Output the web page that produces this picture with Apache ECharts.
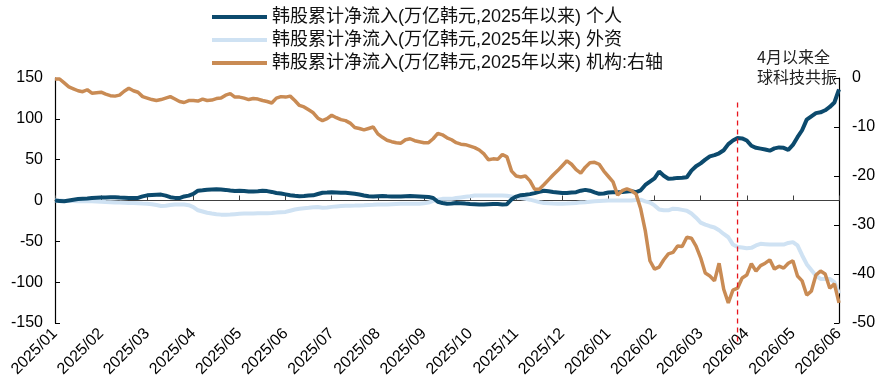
<!DOCTYPE html>
<html>
<head>
<meta charset="utf-8">
<script src="https://cdn.jsdelivr.net/npm/echarts@6/dist/echarts.min.js"></script>
<style>
  html, body { margin: 0; padding: 0; background: #ffffff; }
  #chart { width: 881px; height: 384px; }
</style>
</head>
<body>
<div id="chart"></div>
<script>
// Month labels along the bottom axis; each month holds 10 sampled readings
const monthLabels = ['2025/01','2025/02','2025/03','2025/04','2025/05','2025/06','2025/07','2025/08','2025/09',
  '2025/10','2025/11','2025/12','2026/01','2026/02','2026/03','2026/04','2026/05','2026/06'];
const stepsPerMonth = 10;

const seriesNames = [
  '韩股累计净流入(万亿韩元,2025年以来) 个人',
  '韩股累计净流入(万亿韩元,2025年以来) 外资',
  '韩股累计净流入(万亿韩元,2025年以来) 机构:右轴'
];

// Cumulative net inflow, individuals (left axis)
const individual = [
  0,-0.5,-1,0,1,1.8,2.2,2.5,3,3.3,
  3.6,3.8,4,4,3.6,3.3,3,3,3.2,5,
  6.3,6.8,7,7.2,6,4,3.2,3,5,6,
  8,12,12.5,13.2,13.5,13.7,13.5,13,12.2,11.5,
  11.8,11.5,11,11,11.3,11.8,11.5,10.5,9.2,8.5,
  7.5,6.5,5.8,5.3,5.5,6,6.3,8,9.5,9.7,
  10,9.8,9.5,9.4,9,8.3,7.3,6.2,5.2,5,
  5.2,5.4,5.1,5,5,4.8,5.2,5.5,5.3,5,
  4.6,4.2,3,-1.5,-3,-4,-3.8,-3.2,-3.3,-3.8,
  -4.2,-4.5,-4.8,-5,-4.6,-4.2,-4.3,-4.8,-4.5,1.5,
  4.8,6.5,7,7.8,9,10.5,12,11.3,10.4,9.8,
  9.2,9.2,9.8,10.2,12,13,12,10,8.2,8.6,
  9.7,10,10,10.3,11,11.5,10.3,12.5,19,23,
  27,35.5,30.3,26.6,27,27.7,28,28.5,36.5,42,
  45.5,50,54,55.5,57.8,61.5,69,73.5,76.5,76,
  73.5,67,64.5,63.5,62.5,61,63.8,65,64.5,62,
  68,77.5,86,99,103,107,108,110.5,114.5,120,
  136
];

// Cumulative net inflow, foreign investors (left axis)
const foreign = [
  0,0,-0.3,-0.5,-0.6,-0.8,-1,-1,-1,-1.2,
  -1.5,-1.8,-2,-2.3,-2.6,-2.8,-3,-3.2,-3.5,-3.8,
  -4,-4.5,-5.5,-6.8,-6.5,-5.5,-5,-5,-5,-5.8,
  -8,-12,-13.5,-15,-16,-16.8,-17.3,-17.5,-17.2,-16.7,
  -16.3,-16,-16,-15.8,-15.6,-15.5,-15.5,-15.2,-14.8,-14.3,
  -14,-12.5,-11,-10,-9.5,-9,-8.3,-8,-8.8,-8.5,
  -7.8,-7.2,-6.8,-6.5,-6.3,-6.2,-6,-5.8,-5.5,-5.3,
  -5,-5,-4.8,-4.5,-4.2,-4,-4,-4,-4,-4,
  -3.5,-2.5,-0.5,1,2,2,2,3,3.8,4.5,
  5.2,6,6.2,6.2,6,6,6.2,6,5.8,5,
  4,3,2,1,-0.5,-2,-3,-3.5,-3.8,-4,
  -4,-3.8,-3.5,-3,-2.3,-2,-1.5,-1,-0.5,-0.2,
  0,0,0,0,0,0,0.5,1,-1,-2.5,
  -6,-11,-12,-12,-10,-10.5,-11.5,-12.5,-16,-21,
  -27,-29.5,-31.5,-33,-36.5,-41,-45,-54,-57,-57.5,
  -58.5,-58,-55,-53,-53.5,-54,-54,-54,-54,-52,
  -51,-55,-67,-78,-85,-92,-96,-96,-96,-100,
  -114
];

// Cumulative net inflow, institutions (right axis)
const institution = [
  -0.2,-0.2,-1,-1.8,-2.2,-2.6,-2.8,-2.4,-3.1,-3,
  -2.9,-3.3,-3.6,-3.7,-3.5,-2.7,-2.1,-2.6,-2.9,-3.8,
  -4.1,-4.4,-4.6,-4.4,-4.1,-3.8,-4.3,-4.8,-5,-4.6,
  -4.6,-4.7,-4.3,-4.6,-4.5,-4.2,-4.1,-3.5,-3.2,-3.9,
  -3.9,-4.1,-4.4,-4.2,-4.3,-4.6,-4.8,-5.1,-4.1,-3.8,
  -3.9,-3.7,-4.6,-5.6,-5.9,-6.5,-7.1,-8.2,-8.7,-8.3,
  -7.6,-8.1,-8.5,-8.7,-9.2,-10.1,-10.3,-10.6,-10.3,-10,
  -11.4,-12.1,-12.7,-13,-13.2,-13.3,-12.6,-12.4,-12.8,-13,
  -13.2,-13.2,-12.4,-11.3,-11.6,-12.2,-12.6,-13.2,-13.5,-13.6,
  -13.9,-14.2,-14.7,-15.5,-16.7,-16.5,-16.6,-15.6,-16.1,-19,
  -20,-20.2,-20,-21,-22.7,-22.7,-21.8,-20.8,-19.8,-18.9,
  -17.9,-16.9,-17.6,-18.7,-19.4,-18.2,-17.3,-17.2,-17.6,-19,
  -20.1,-21.2,-23.9,-23,-22.6,-23,-23.7,-26.7,-31.2,-37.3,
  -39,-38.6,-37.1,-35.9,-35.6,-34.3,-34.4,-32.5,-32.7,-34.3,
  -36.7,-39.8,-40.4,-41.4,-37.8,-43.1,-45.9,-43.3,-42.9,-40.8,
  -40.2,-37.9,-39.4,-38.3,-37.8,-37.1,-39,-38.4,-38.8,-37.8,
  -37.3,-40.4,-41.4,-44.3,-43.5,-40.2,-39.4,-40,-42.9,-42,
  -45.9
];

const leftTicks = { min: -150, max: 150, interval: 50 };
const rightTicks = { min: -50, max: 0, interval: 10 };
const markerIndex = 148;        // sample where the April rally marker sits
const markerTopValue = 120;     // left-axis value where the dashed marker starts
const noteText = '4月以来全\n球科技共振';

const colors = ['#0c4a6d', '#cfe2f3', '#c98b54'];

// Category list: one entry per sampled trading day
const categories = [];
for (let i = 0; i < individual.length; i++) {
  categories.push(monthLabels[Math.floor(i / stepsPerMonth)] + '#' + (i % stepsPerMonth));
}

const latin = '"Liberation Sans", Arial, "Noto Sans CJK SC", sans-serif';
const cjk = '"Liberation Sans", "Noto Sans CJK SC", sans-serif';
const onMonth = (idx) => idx % stepsPerMonth === 0;

const chart = echarts.init(document.getElementById('chart'), null, { renderer: 'canvas' });

chart.setOption({
  animation: false,
  backgroundColor: '#ffffff',
  color: colors,
  grid: { left: 55, right: 42, top: 78, bottom: 61, containLabel: false },
  legend: {
    orient: 'vertical',
    left: 212,
    top: 8,
    padding: 0,
    icon: 'rect',
    itemWidth: 55,
    itemHeight: 4,
    itemGap: 5,
    textStyle: { fontFamily: cjk, fontSize: 18, lineHeight: 18, color: '#111' },
    data: seriesNames
  },
  xAxis: [
    {
      type: 'category',
      data: categories,
      boundaryGap: false,
      position: 'bottom',
      axisLine: { show: false, onZero: false },
      axisTick: { show: false },
      axisLabel: {
        interval: onMonth,
        rotate: 45,
        margin: 8,
        fontFamily: latin,
        fontSize: 16,
        color: '#000',
        formatter: (v) => v.split('#')[0]
      },
      splitLine: { show: false }
    },
    {
      type: 'category',
      data: categories,
      boundaryGap: false,
      position: 'bottom',
      axisLine: { show: true, onZero: true, onZeroAxisIndex: 0, lineStyle: { color: '#404040', width: 1.2 } },
      axisTick: { show: true, inside: true, length: 5, interval: onMonth, alignWithLabel: true, lineStyle: { color: '#404040' } },
      axisLabel: { show: false },
      splitLine: { show: false }
    }
  ],
  yAxis: [
    {
      type: 'value',
      position: 'left',
      min: leftTicks.min, max: leftTicks.max, interval: leftTicks.interval,
      axisLine: { show: true, lineStyle: { color: '#000', width: 1.2 } },
      axisTick: { show: true, inside: true, length: 5, lineStyle: { color: '#000' } },
      axisLabel: { fontFamily: latin, fontSize: 16, color: '#000', margin: 12 },
      splitLine: { show: false }
    },
    {
      type: 'value',
      position: 'right',
      min: rightTicks.min, max: rightTicks.max, interval: rightTicks.interval,
      axisLine: { show: true, lineStyle: { color: '#000', width: 1.2 } },
      axisTick: { show: true, inside: true, length: 5, lineStyle: { color: '#000' } },
      axisLabel: { fontFamily: latin, fontSize: 16, color: '#000', margin: 13 },
      splitLine: { show: false }
    }
  ],
  series: [
    {
      name: seriesNames[0], type: 'line', data: individual,
      xAxisIndex: 0, yAxisIndex: 0, symbol: 'none',
      lineStyle: { width: 4, color: colors[0] }, z: 3
    },
    {
      name: seriesNames[1], type: 'line', data: foreign,
      xAxisIndex: 0, yAxisIndex: 0, symbol: 'none',
      lineStyle: { width: 4, color: colors[1] }, z: 2
    },
    {
      name: seriesNames[2], type: 'line', data: institution,
      xAxisIndex: 0, yAxisIndex: 1, symbol: 'none',
      lineStyle: { width: 3.5, color: colors[2] }, z: 4
    }
  ]
});

// Dashed marker at the start of the April rally, positioned through the axis scales
const mx = chart.convertToPixel({ xAxisIndex: 0 }, markerIndex);
const myTop = chart.convertToPixel({ yAxisIndex: 0 }, markerTopValue);
const myBottom = chart.convertToPixel({ yAxisIndex: 0 }, leftTicks.min) + 22;

chart.setOption({
  graphic: [
    {
      type: 'line',
      z: 10,
      shape: { x1: mx, y1: myTop, x2: mx, y2: myBottom },
      style: { stroke: '#e8141c', lineWidth: 1.3, lineDash: [5, 4] }
    },
    {
      type: 'text',
      left: 757,
      top: 47,
      z: 10,
      style: {
        text: noteText,
        font: '16px "Noto Sans CJK SC", sans-serif',
        lineHeight: 20,
        fill: '#222'
      }
    }
  ]
});
</script>
</body>
</html>
